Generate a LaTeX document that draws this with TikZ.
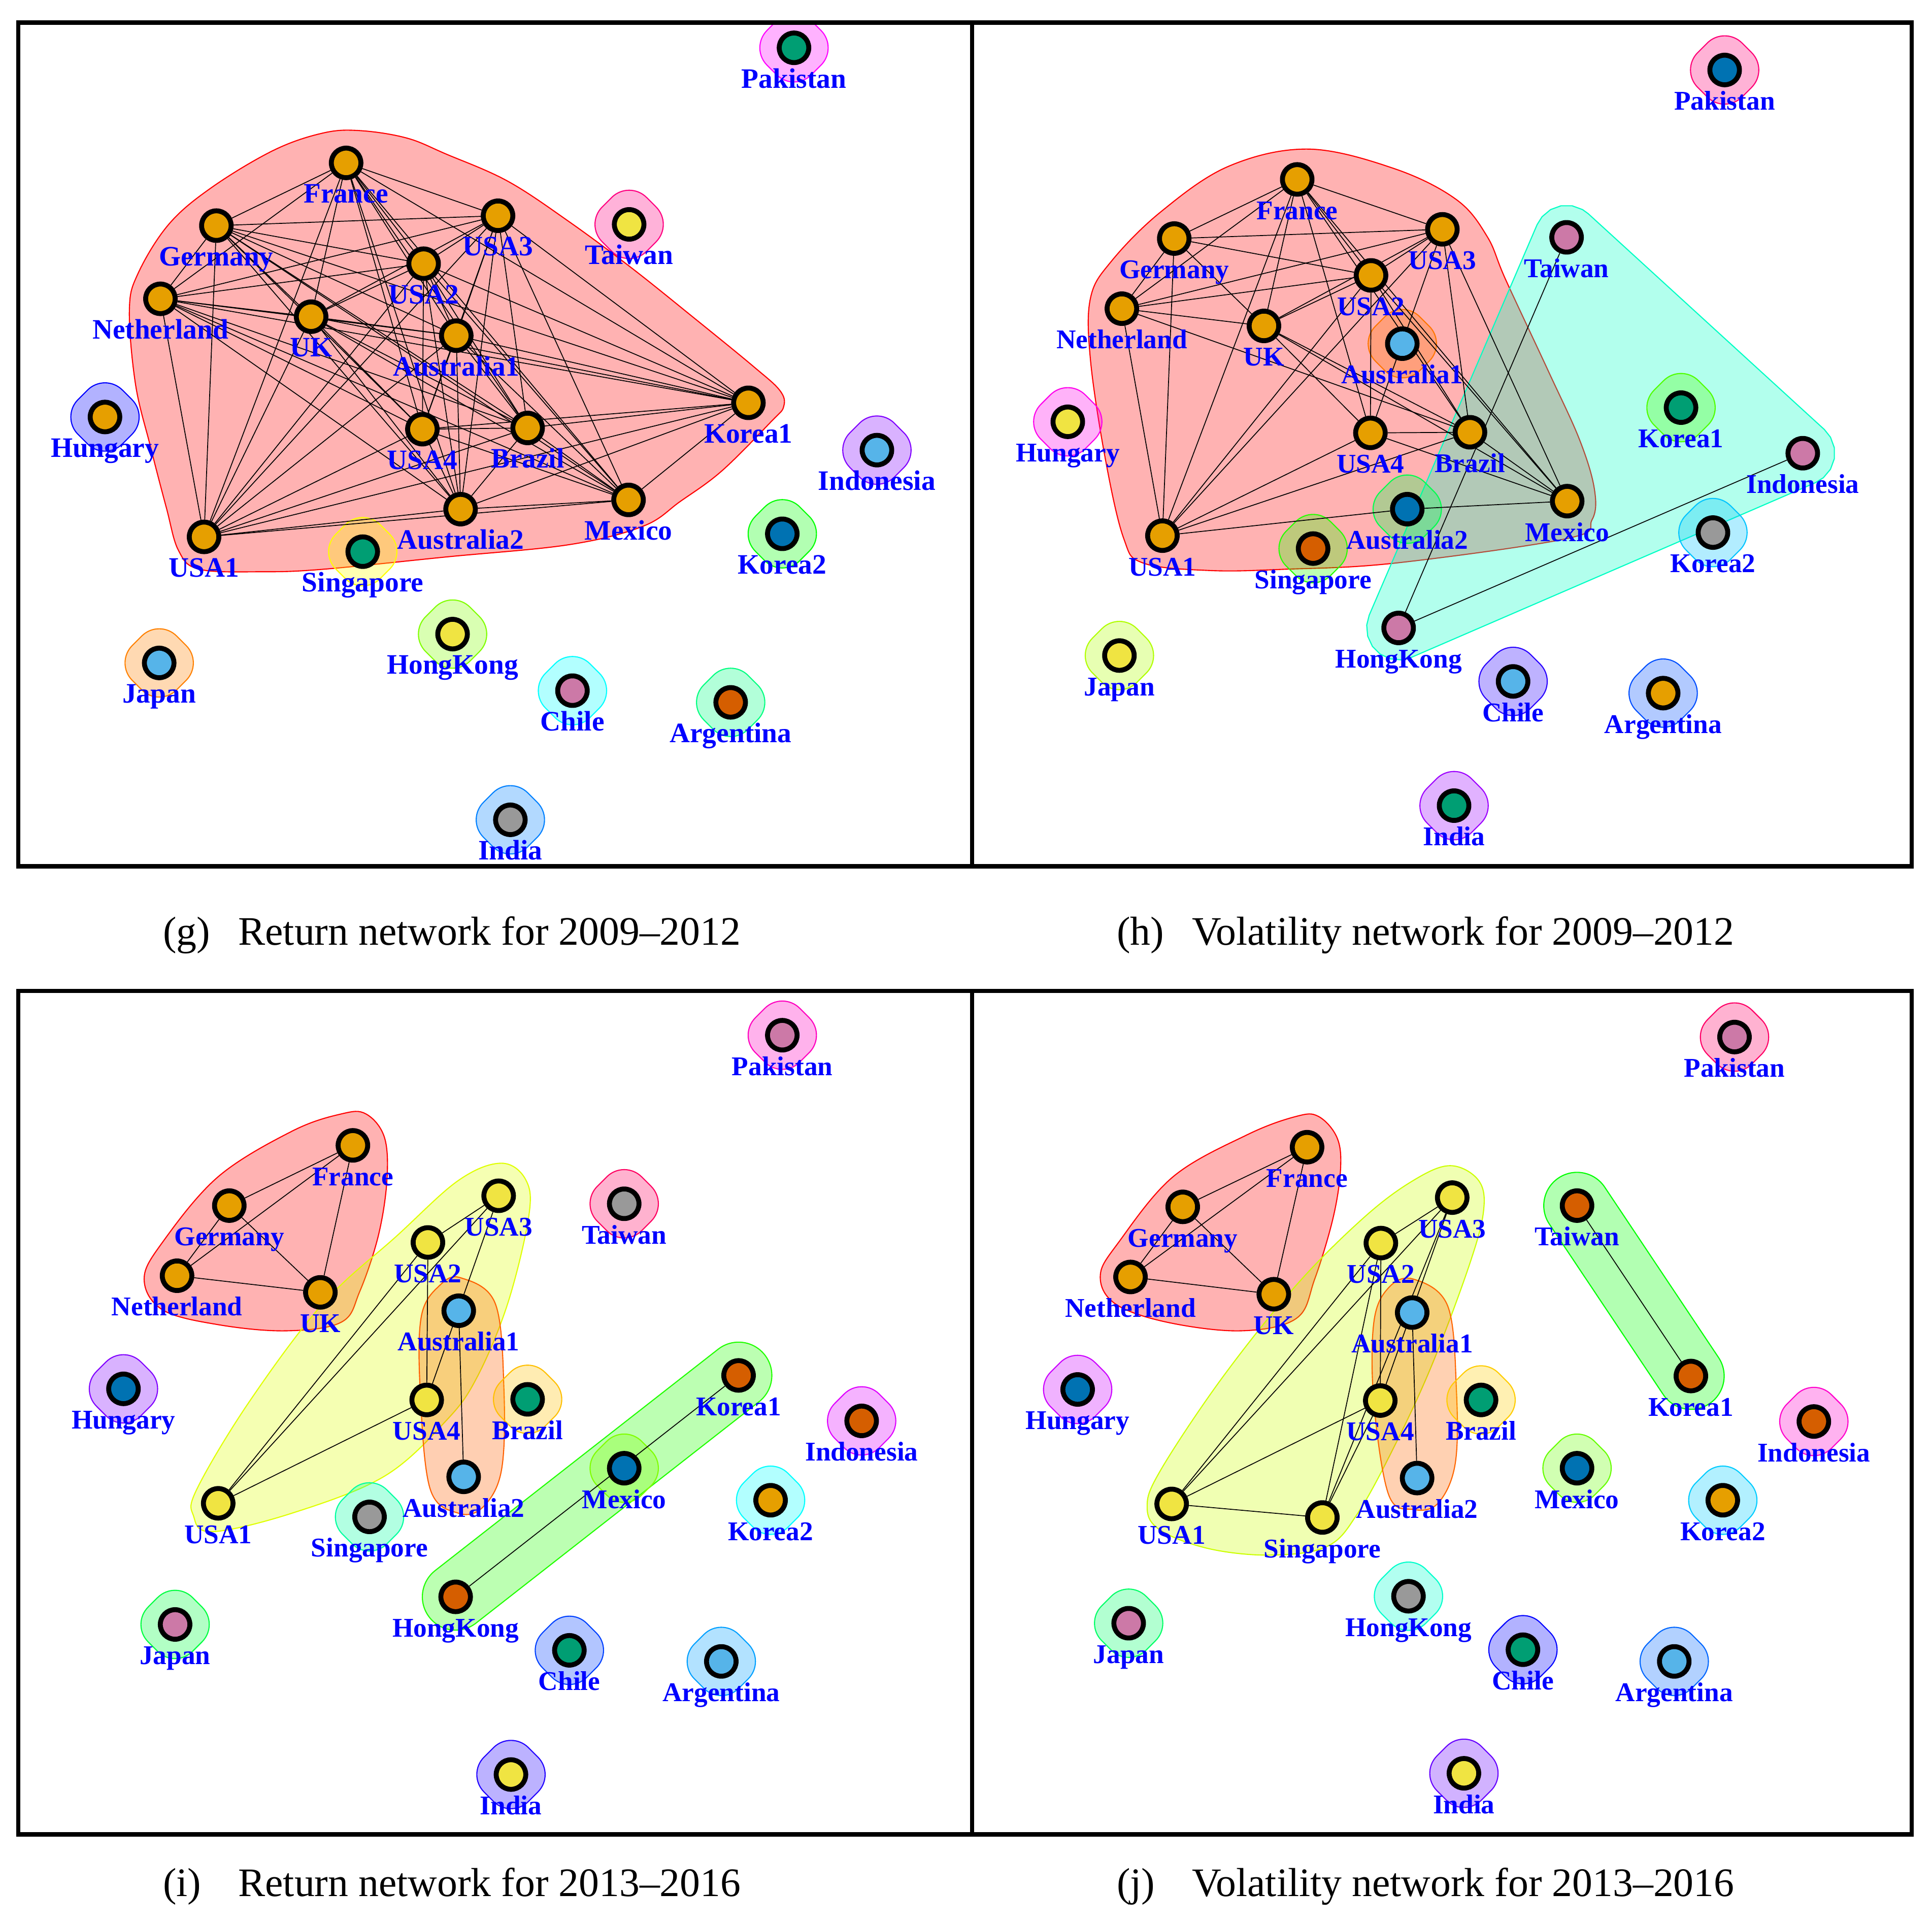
\documentclass[tikz,border=0pt]{standalone}
\usepackage{fontspec}
\setmainfont{Liberation Serif}
\usetikzlibrary{calc}
\pgfdeclarelayer{halo}
\pgfdeclarelayer{edges}
\pgfsetlayers{halo,edges,main}
\definecolor{vOr}{HTML}{E69F00}
\definecolor{vSb}{HTML}{56B4E9}
\definecolor{vGr}{HTML}{009E73}
\definecolor{vYe}{HTML}{F0E442}
\definecolor{vBl}{HTML}{0072B2}
\definecolor{vVe}{HTML}{D55E00}
\definecolor{vPu}{HTML}{CC79A7}
\definecolor{vGy}{HTML}{999999}
\definecolor{labblue}{HTML}{0000FF}
\newcommand\labfnt{\bfseries\fontsize{13}{13}\selectfont}
\tikzset{
  vtx/.style={circle, draw=black, line width=0.08cm, minimum size=0.48cm, inner sep=0pt},
  lab/.style={anchor=base, text=labblue, font=\labfnt, inner sep=0pt},
  lnk/.style={draw=black, line width=0.4pt},
  framebox/.style={draw=black, line width=2pt},
  captxt/.style={anchor=base west, font=\fontsize{18.7}{22}\selectfont, inner sep=0pt},
}
\newcommand\nd[5]{\node[vtx, fill=#4] (#1) at (#2,#3) {};
  \node[lab] (#1L) at (#2,#3+32.5) {#5};}
\newcommand\shalo[2]{\definecolor{hc}{HTML}{#2}%
  \path[draw=hc, fill=hc, fill opacity=0.3, line width=0.5pt, rounded corners=0.4cm]
  ($(#1)+(18,-18)$) -- ($(#1)+(36,0)$) -- ($(#1)+(0,36)$) -- ($(#1)+(-36,0)$) -- ($(#1)+(0,-36)$) -- ($(#1)+(18,-18)$);}
\newcommand\ghalo[2]{\definecolor{hc}{HTML}{#1}%
  \path[draw=hc, fill=hc, fill opacity=0.3, line width=0.5pt] plot[smooth cycle, tension=0.6] coordinates {#2};}
\newcommand\chalo[2]{\definecolor{hc}{HTML}{#1}%
  \path[draw=hc, fill=hc, fill opacity=0.3, line width=0.5pt, rounded corners=0.54cm] #2;}
\newcommand\phalo[2]{\definecolor{hc}{HTML}{#1}%
  \path[draw=hc, fill=hc, fill opacity=0.3, line width=0.5pt, line join=round] #2;}
\begin{document}
\begin{tikzpicture}[x=0.02cm, y=-0.02cm]
\useasboundingbox (0,0) rectangle (1568,1561);
% ---------------- panel g ----------------
\nd{gPak}{644.4}{38.8}{vGr}{Pakistan}
\nd{gFra}{280.9}{132.2}{vOr}{France}
\nd{gGer}{175.6}{183.1}{vOr}{Germany}
\nd{gNet}{130.2}{242.5}{vOr}{Netherland}
\nd{gUK}{252.5}{257.0}{vOr}{UK}
\nd{gU2}{343.8}{214.0}{vOr}{USA2}
\nd{gU3}{404.2}{175.1}{vOr}{USA3}
\nd{gA1}{370.3}{272.4}{vOr}{Australia1}
\nd{gU4}{342.8}{348.3}{vOr}{USA4}
\nd{gBra}{428.2}{347.3}{vOr}{Brazil}
\nd{gKo1}{607.4}{326.9}{vOr}{Korea1}
\nd{gA2}{373.8}{413.2}{vOr}{Australia2}
\nd{gMex}{510.1}{405.7}{vOr}{Mexico}
\nd{gU1}{165.6}{435.7}{vOr}{USA1}
\nd{gSin}{294.4}{447.7}{vGr}{Singapore}
\nd{gTai}{510.6}{182.1}{vYe}{Taiwan}
\nd{gHun}{85.2}{338.4}{vOr}{Hungary}
\nd{gIdo}{711.7}{365.3}{vSb}{Indonesia}
\nd{gKo2}{634.9}{433.2}{vBl}{Korea2}
\nd{gJap}{129.2}{538.0}{vSb}{Japan}
\nd{gHK}{367.3}{514.6}{vYe}{HongKong}
\nd{gChi}{464.6}{560.5}{vPu}{Chile}
\nd{gArg}{593.0}{570.0}{vVe}{Argentina}
\nd{gInd}{414.2}{665.3}{vGy}{India}
% ---------------- panel h ----------------
\renewcommand\labfnt{\bfseries\fontsize{12.5}{12.5}\selectfont}
\nd{hPak}{1399.7}{56.8}{vBl}{Pakistan}
\nd{hFra}{1052.8}{145.6}{vOr}{France}
\nd{hU3}{1170.6}{186.1}{vOr}{USA3}
\nd{hGer}{953.0}{193.6}{vOr}{Germany}
\nd{hU2}{1112.7}{223.5}{vOr}{USA2}
\nd{hNet}{910.5}{250.5}{vOr}{Netherland}
\nd{hUK}{1025.8}{264.5}{vOr}{UK}
\nd{hA1}{1138.1}{278.9}{vSb}{Australia1}
\nd{hTai}{1271.4}{192.6}{vPu}{Taiwan}
\nd{hHun}{866.6}{342.3}{vYe}{Hungary}
\nd{hKo1}{1364.3}{330.8}{vGr}{Korea1}
\nd{hU4}{1112.2}{351.3}{vOr}{USA4}
\nd{hBra}{1193.0}{350.8}{vOr}{Brazil}
\nd{hIdo}{1463.1}{367.8}{vPu}{Indonesia}
\nd{hMex}{1271.9}{406.7}{vOr}{Mexico}
\nd{hA2}{1142.1}{413.2}{vBl}{Australia2}
\nd{hU1}{943.4}{434.7}{vOr}{USA1}
\nd{hKo2}{1390.2}{432.2}{vGy}{Korea2}
\nd{hSin}{1065.7}{445.2}{vVe}{Singapore}
\nd{hHK}{1135.1}{509.6}{vPu}{HongKong}
\nd{hJap}{908.5}{532.0}{vYe}{Japan}
\nd{hChi}{1228.0}{553.0}{vSb}{Chile}
\nd{hArg}{1349.8}{562.5}{vOr}{Argentina}
\nd{hInd}{1180.1}{653.8}{vGr}{India}
% ---------------- panel i ----------------
\nd{iPak}{634.9}{840.1}{vPu}{Pakistan}
\nd{iFra}{286.4}{929.5}{vOr}{France}
\nd{iTai}{506.6}{976.9}{vGy}{Taiwan}
\nd{iGer}{186.1}{978.4}{vOr}{Germany}
\nd{iU3}{404.7}{970.4}{vYe}{USA3}
\nd{iU2}{347.3}{1008.3}{vYe}{USA2}
\nd{iNet}{143.7}{1035.3}{vOr}{Netherland}
\nd{iUK}{260.0}{1048.8}{vOr}{UK}
\nd{iA1}{372.3}{1063.7}{vSb}{Australia1}
\nd{iHun}{100.2}{1127.1}{vBl}{Hungary}
\nd{iKo1}{599.4}{1116.2}{vVe}{Korea1}
\nd{iU4}{346.3}{1136.1}{vYe}{USA4}
\nd{iBra}{428.2}{1135.6}{vGr}{Brazil}
\nd{iIdo}{699.3}{1153.1}{vVe}{Indonesia}
\nd{iMex}{506.6}{1191.5}{vBl}{Mexico}
\nd{iA2}{376.3}{1198.5}{vSb}{Australia2}
\nd{iU1}{177.1}{1220.0}{vYe}{USA1}
\nd{iKo2}{625.4}{1217.5}{vOr}{Korea2}
\nd{iSin}{299.9}{1231.0}{vGy}{Singapore}
\nd{iHK}{369.8}{1295.9}{vVe}{HongKong}
\nd{iJap}{142.1}{1318.3}{vPu}{Japan}
\nd{iChi}{462.1}{1339.3}{vGr}{Chile}
\nd{iArg}{585.4}{1348.3}{vSb}{Argentina}
\nd{iInd}{414.7}{1440.1}{vYe}{India}
% ---------------- panel j ----------------
\nd{jPak}{1407.7}{841.6}{vPu}{Pakistan}
\nd{jFra}{1060.8}{931.0}{vOr}{France}
\nd{jGer}{959.9}{979.4}{vOr}{Germany}
\nd{jU3}{1178.6}{971.9}{vYe}{USA3}
\nd{jTai}{1279.9}{978.4}{vVe}{Taiwan}
\nd{jU2}{1120.7}{1008.8}{vYe}{USA2}
\nd{jNet}{917.5}{1036.3}{vOr}{Netherland}
\nd{jUK}{1033.8}{1050.3}{vOr}{UK}
\nd{jA1}{1146.1}{1065.2}{vSb}{Australia1}
\nd{jHun}{874.6}{1127.6}{vBl}{Hungary}
\nd{jKo1}{1372.3}{1116.7}{vVe}{Korea1}
\nd{jU4}{1120.2}{1136.6}{vYe}{USA4}
\nd{jBra}{1202.0}{1136.1}{vGr}{Brazil}
\nd{jIdo}{1472.1}{1153.6}{vVe}{Indonesia}
\nd{jMex}{1279.9}{1191.5}{vBl}{Mexico}
\nd{jA2}{1150.1}{1199.5}{vSb}{Australia2}
\nd{jU1}{950.9}{1220.5}{vYe}{USA1}
\nd{jKo2}{1398.2}{1217.5}{vOr}{Korea2}
\nd{jSin}{1073.2}{1231.5}{vYe}{Singapore}
\nd{jHK}{1143.1}{1295.4}{vGy}{HongKong}
\nd{jJap}{916.0}{1317.3}{vPu}{Japan}
\nd{jChi}{1236.0}{1338.8}{vGr}{Chile}
\nd{jArg}{1358.8}{1348.3}{vSb}{Argentina}
\nd{jInd}{1188.1}{1439.1}{vYe}{India}
% ---------------- halos ----------------
\begin{pgfonlayer}{halo}
\begin{scope}
\clip (14.9,18.3) rectangle (789,703);
\ghalo{FF0000}{(292,106) (330,112) (362,125) (412,147) (462,180) (512,217) (562,257) (611,297) (633,317) (636,330) (626,342) (586,382) (552,407) (522,427) (462,442) (362,452) (262,462) (212,464) (162,462) (145,447) (135,412) (122,362) (110,312) (105,252) (112,222) (137,182) (172,152) (222,122) (262,108)}
\shalo{gJap}{FF8000}\shalo{gSin}{FFFF00}\shalo{gHK}{80FF00}\shalo{gKo2}{00FF00}
\shalo{gArg}{00FF80}\shalo{gChi}{00FFFF}\shalo{gInd}{0080FF}\shalo{gHun}{0000FF}
\shalo{gIdo}{8000FF}\shalo{gPak}{FF00FF}\shalo{gTai}{FF0080}
\end{scope}
\begin{scope}
\clip (789,18.3) rectangle (1551.5,703);
\ghalo{FF0000}{(1062,121) (1132,137) (1182,162) (1207,192) (1222,227) (1257,302) (1282,357) (1294,397) (1292,422) (1272,437) (1132,457) (1042,462) (982,463) (928,457) (912,437) (897,372) (885,292) (885,242) (902,212) (942,172) (997,135)}
\phalo{00FFC4}{(1247.5,182.3) -- (1251.5,175.9) -- (1258.4,170.1) -- (1266.9,167.0) -- (1275.9,167.0) -- (1284.4,170.1) -- (1288.95,173.4)
  -- (1480.65,348.6) -- (1485.6,354.8) -- (1488.7,363.3) -- (1488.7,372.3) -- (1485.6,380.8) -- (1479.8,387.7) -- (1473.4,391.7)
  -- (1145.4,533.5) -- (1137.4,535.5) -- (1128.4,534.7) -- (1120.2,530.9) -- (1113.8,524.5) -- (1110.0,516.3) -- (1109.2,507.3) -- (1111.2,499.3) -- cycle}
\shalo{hA1}{FF7600}\shalo{hA2}{00FF4E}\shalo{hSin}{27FF00}\shalo{hJap}{B0FF00}
\shalo{hKo1}{50FF00}\shalo{hKo2}{00C4FF}\shalo{hArg}{004EFF}\shalo{hChi}{2700FF}
\shalo{hInd}{9D00FF}\shalo{hHun}{FF00EC}\shalo{hPak}{FF0076}
\end{scope}
\begin{scope}
\clip (14.9,804.2) rectangle (789,1488.6);
\ghalo{FF0000}{(297,904) (312,923) (314,958) (307,1003) (292,1048) (277,1073) (232,1080) (177,1075) (132,1063) (117,1038) (132,1008) (177,955) (237,918) (277,904)}
\ghalo{DFFF00}{(407,944) (427,958) (429,988) (412,1058) (387,1118) (362,1153) (312,1198) (237,1228) (172,1243) (157,1230) (160,1208) (202,1138) (262,1058) (322,1003) (372,958)}
\ghalo{FF6000}{(374,1037) (402,1058) (409,1128) (407,1193) (392,1223) (372,1228) (349,1208) (341,1128) (342,1068) (357,1043)}
\chalo{20FF00}{(620.7,1099.6) -- (637.3,1120.9) -- (365.1,1333.8) -- (331.9,1291.2) -- (604.1,1078.3) -- (620.7,1099.6)}
\shalo{iBra}{FFBF00}\shalo{iMex}{80FF00}\shalo{iJap}{00FF40}\shalo{iSin}{00FF9F}
\shalo{iKo2}{00FFFF}\shalo{iArg}{009FFF}\shalo{iChi}{0040FF}\shalo{iInd}{2000FF}
\shalo{iHun}{8000FF}\shalo{iIdo}{DF00FF}\shalo{iPak}{FF00BF}\shalo{iTai}{FF0060}
\end{scope}
\begin{scope}
\clip (789,804.2) rectangle (1551.5,1488.6);
\ghalo{FF0000}{(1070,906) (1085,923) (1088,948) (1082,988) (1067,1038) (1052,1070) (1007,1080) (947,1073) (905,1058) (893,1035) (908,1008) (952,955) (1012,921) (1052,906)}
\ghalo{CCFF00}{(1177,946) (1200,958) (1204,983) (1192,1028) (1162,1108) (1132,1173) (1102,1228) (1077,1255) (1032,1262) (982,1257) (942,1242) (931,1223) (942,1193) (992,1118) (1052,1043) (1107,988) (1147,958)}
\ghalo{FF6600}{(1147,1038) (1175,1060) (1182,1128) (1181,1188) (1167,1220) (1147,1225) (1127,1213) (1115,1138) (1115,1073) (1127,1045)}
\chalo{00FF00}{(1387.3,1139.15) -- (1364.85,1154.15) -- (1242.45,970.95) -- (1287.35,940.95) -- (1409.75,1124.15) -- (1387.3,1139.15)}
\shalo{jBra}{FFCC00}\shalo{jMex}{66FF00}\shalo{jJap}{00FF66}\shalo{jHK}{00FFCC}
\shalo{jKo2}{00CCFF}\shalo{jArg}{0066FF}\shalo{jChi}{0000FF}\shalo{jInd}{6600FF}
\shalo{jHun}{CC00FF}\shalo{jIdo}{FF00CC}\shalo{jPak}{FF0066}
\end{scope}
\end{pgfonlayer}
% ---------------- edges ----------------
\begin{pgfonlayer}{edges}
\foreach \a [count=\i] in {gFra,gGer,gNet,gUK,gU1,gU2,gU3,gU4,gA1,gA2,gBra,gKo1,gMex}{
  \foreach \b [count=\j] in {gFra,gGer,gNet,gUK,gU1,gU2,gU3,gU4,gA1,gA2,gBra,gKo1,gMex}{
    \ifnum\j>\i \draw[lnk] (\a) -- (\b); \fi}}
\foreach \a/\b in {hFra/hGer, hFra/hNet, hFra/hU3, hFra/hUK, hFra/hU1, hFra/hU2, hFra/hU4, hFra/hBra, hFra/hMex,
  hGer/hU3, hGer/hU2, hGer/hNet, hGer/hUK, hGer/hU1,
  hNet/hU3, hNet/hU2, hNet/hUK, hNet/hU1, hNet/hBra,
  hUK/hU2, hUK/hU3, hUK/hU4, hUK/hBra, hUK/hMex,
  hU2/hU3, hU2/hU4, hU2/hBra, hU2/hMex, hU2/hU1,
  hU3/hBra, hU3/hMex, hU3/hU1, hU3/hU4,
  hU4/hBra, hU4/hMex, hU4/hU1, hBra/hMex, hBra/hU1,
  hU1/hA2, hA2/hMex, hTai/hHK, hHK/hIdo}
  \draw[lnk] (\a) -- (\b);
\foreach \a/\b in {iFra/iGer, iFra/iNet, iFra/iUK, iGer/iNet, iGer/iUK, iNet/iUK,
  iU1/iU2, iU1/iU3, iU1/iU4, iU2/iU3, iU2/iU4, iU3/iU4, iA1/iA2, iHK/iKo1}
  \draw[lnk] (\a) -- (\b);
\foreach \a/\b in {jFra/jGer, jFra/jNet, jFra/jUK, jGer/jNet, jGer/jUK, jNet/jUK,
  jU1/jU2, jU1/jU3, jU1/jU4, jU1/jSin, jU2/jU3, jU2/jU4, jU2/jSin, jU3/jU4, jU3/jSin, jU4/jSin,
  jA1/jA2, jTai/jKo1}
  \draw[lnk] (\a) -- (\b);
\end{pgfonlayer}
% ---------------- frames and captions ----------------
\draw[framebox] (14.9,18.3) rectangle (1551.5,703.0);
\draw[framebox] (789,18.3) -- (789,703.0);
\draw[framebox] (14.9,804.2) rectangle (1551.5,1488.6);
\draw[framebox] (789,804.2) -- (789,1488.6);
\node[captxt] (cg1) at (132,767) {(g)};
\node[captxt] (cg2) at (193,767) {Return network for 2009–2012};
\node[captxt] (ch1) at (906,767) {(h)};
\node[captxt] (ch2) at (967,767) {Volatility network for 2009–2012};
\node[captxt] (ci1) at (132,1539) {(i)};
\node[captxt] (ci2) at (193,1539) {Return network for 2013–2016};
\node[captxt] (cj1) at (906,1539) {(j)};
\node[captxt] (cj2) at (967,1539) {Volatility network for 2013–2016};
\end{tikzpicture}
\end{document}
